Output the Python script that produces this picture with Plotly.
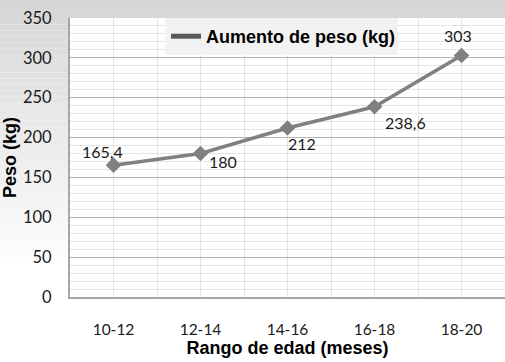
import plotly.graph_objects as go

categories = ["10-12", "12-14", "14-16", "16-18", "18-20"]
peso = [165.4, 180, 212, 238.6, 303]
labels = ["165,4", "180", "212", "238,6", "303"]
label_dx = [-11, 22, 14, 31, -4]
label_dy = [14, -8, -15, -16, 20]
series_name = "Aumento de peso (kg)"
y_ticks = [0, 50, 100, 150, 200, 250, 300, 350]

W, H = 505, 362
L, R, T, B = 70, 0, 18, 65
PW, PH = W - L - R, H - T - B

fig = go.Figure()
xs = list(range(len(categories)))
fig.add_trace(go.Scatter(
    x=xs, y=peso, name=series_name, showlegend=False,
    mode="lines+markers",
    line=dict(color="#808080", width=3.5),
    marker=dict(symbol="diamond", size=12, color="#808080"),
    cliponaxis=False,
))
# legend entry (line only, like the original)
fig.add_trace(go.Scatter(
    x=[None], y=[None], name=series_name, mode="lines",
    line=dict(color="#595959", width=5),
))

annotations = []
for xi, yv, t, dx, dy in zip(xs, peso, labels, label_dx, label_dy):
    annotations.append(dict(x=xi, y=yv, text=t, showarrow=False, xshift=dx, yshift=dy,
                            font=dict(family="Lato", size=16, color="#1a1a1a")))

# gradient background (paper), then white plot area
shapes = []
n = 60
top_c, bot_c = 0xd6, 0xff
for i in range(n):
    py0 = H * i / n
    py1 = H * (i + 1) / n
    frac = min(1.0, (i + 0.5) / (n * 0.75))
    c = int(round(top_c + (bot_c - top_c) * frac))
    col = f"rgb({c},{c},{c})"
    shapes.append(dict(type="rect", xref="paper", yref="paper",
                       x0=-L / PW, x1=1.01,
                       y0=(H - B - py1) / PH, y1=(H - B - py0) / PH,
                       fillcolor=col, line=dict(width=0), layer="below"))
shapes.append(dict(type="rect", xref="paper", yref="paper", x0=0, x1=1, y0=0, y1=1,
                   fillcolor="white", line=dict(width=0), layer="below"))
# legend box
shapes.append(dict(type="rect", xref="paper", yref="paper",
                   x0=(165 - L) / PW, x1=(398 - L) / PW,
                   y0=(H - B - 55) / PH, y1=1.0,
                   fillcolor="#f2f2f2", line=dict(width=0), layer="above"))

fig.update_layout(
    width=W, height=H,
    margin=dict(l=L, r=R, t=T, b=B, pad=0),
    paper_bgcolor="white", plot_bgcolor="rgba(0,0,0,0)",
    shapes=shapes, annotations=annotations,
    showlegend=True,
    legend=dict(x=(166 - L) / PW, y=(H - B - 36.5) / PH, xanchor="left", yanchor="middle",
                bgcolor="rgba(0,0,0,0)", borderwidth=0,
                font=dict(family="Liberation Sans", size=18, color="#000000", weight="bold"),
                itemwidth=30),
    font=dict(family="Lato", size=15.5, color="#1a1a1a"),
    xaxis=dict(
        range=[-0.5, 4.5], tickvals=xs, ticktext=categories,
        showgrid=True, gridcolor="#e4e4e4", gridwidth=1,
        minor=dict(dtick=0.5, tick0=-0.5, showgrid=True, gridcolor="#e4e4e4", gridwidth=1),
        showline=True, linecolor="#a6a6a6", linewidth=2,
        ticks="", ticklabelstandoff=17,
        zeroline=False,
        title=dict(text="Rango de edad (meses)", standoff=3,
                   font=dict(family="Liberation Sans", size=18, color="#000000", weight="bold")),
        tickfont=dict(family="Lato", size=15.5, color="#1a1a1a"),
    ),
    yaxis=dict(
        range=[0, 350], tickvals=y_ticks,
        showgrid=True, gridcolor="#b3b3b3", gridwidth=1,
        minor=dict(dtick=10, showgrid=True, gridcolor="#e4e4e4", gridwidth=1),
        showline=True, linecolor="#a6a6a6", linewidth=2,
        ticks="", ticklabelstandoff=13,
        zeroline=False,
        title=dict(text="Peso (kg)", standoff=8,
                   font=dict(family="Liberation Sans", size=18, color="#000000", weight="bold")),
        tickfont=dict(family="Lato", size=16.5, color="#1a1a1a"),
    ),
)

fig.write_html("out.html")
